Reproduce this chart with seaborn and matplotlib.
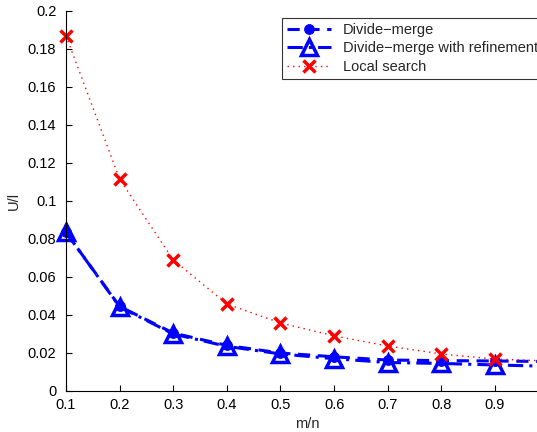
import matplotlib
matplotlib.use("Agg")
import matplotlib.pyplot as plt
import seaborn as sns
import pandas as pd

ratio = [0.1, 0.2, 0.3, 0.4, 0.5, 0.6, 0.7, 0.8, 0.9, 1.0]
divide_merge = [0.0835, 0.0445, 0.0305, 0.024, 0.020, 0.018, 0.0163, 0.016, 0.0158, 0.0155]
divide_merge_ref = [0.0835, 0.0443, 0.030, 0.0235, 0.0195, 0.017, 0.015, 0.0145, 0.0137, 0.013]
local_search = [0.187, 0.1115, 0.069, 0.0458, 0.0358, 0.029, 0.0237, 0.0195, 0.0168, 0.0158]

df = pd.DataFrame({"m/n": ratio, "dm": divide_merge, "dmr": divide_merge_ref, "ls": local_search})

sns.set_style("ticks")
plt.rcParams["font.family"] = ["Liberation Sans", "DejaVu Sans"]
plt.rcParams["xtick.direction"] = "in"
plt.rcParams["ytick.direction"] = "in"

fig = plt.figure(figsize=(5.37, 4.32), dpi=100)
ax = fig.add_axes([66 / 537, 1 - 391 / 432, (548.6 - 66) / 537, (391 - 11) / 432])

sns.lineplot(data=df, x="m/n", y="dm", ax=ax, color="blue", lw=2.2,
             linestyle=(0, (4, 2.5)), marker="o", markersize=7, mec="blue",
             clip_on=False, label="Divide\u2212merge")
sns.lineplot(data=df, x="m/n", y="dmr", ax=ax, color="blue", lw=2.2,
             linestyle=(0, (5, 2, 1, 2)), marker="^", markersize=12,
             mfc="none", mec="blue", mew=2.5, clip_on=False,
             label="Divide\u2212merge with refinement")
sns.lineplot(data=df, x="m/n", y="ls", ax=ax, color="red", lw=1,
             linestyle=(0, (1, 3)), marker="x", markersize=8, mew=2.5,
             mec="red", clip_on=False, label="Local search")

ax.set_xlim(0.1, 1.0)
ax.set_ylim(0, 0.2)
ax.set_xticks([0.1, 0.2, 0.3, 0.4, 0.5, 0.6, 0.7, 0.8, 0.9])
ax.set_xticklabels(["0.1", "0.2", "0.3", "0.4", "0.5", "0.6", "0.7", "0.8", "0.9"])
ax.set_yticks([0, 0.02, 0.04, 0.06, 0.08, 0.1, 0.12, 0.14, 0.16, 0.18, 0.2])
ax.set_yticklabels(["0", "0.02", "0.04", "0.06", "0.08", "0.1", "0.12", "0.14",
                    "0.16", "0.18", "0.2"])
ax.tick_params(labelsize=10.5, length=4, width=0.8, colors="black")
ax.tick_params(axis="y", pad=7)
ax.tick_params(axis="x", pad=5)
ax.set_xlabel("m/n", fontsize=10.5, labelpad=4)
ax.set_ylabel("U/l", fontsize=10.5, labelpad=5)
sns.despine(ax=ax)
for s in ["left", "bottom"]:
    ax.spines[s].set_linewidth(0.8)
    ax.spines[s].set_color("black")

leg = ax.legend(loc="upper left", bbox_to_anchor=(282 / 537, 1 - 18 / 432),
                bbox_transform=fig.transFigure, borderaxespad=0, fontsize=10.5,
                frameon=True, fancybox=False, edgecolor="black", borderpad=0.35,
                labelspacing=0.3, handlelength=3, handletextpad=0.8)
leg.get_frame().set_linewidth(0.8)

fig.savefig("out.png", dpi=100)
